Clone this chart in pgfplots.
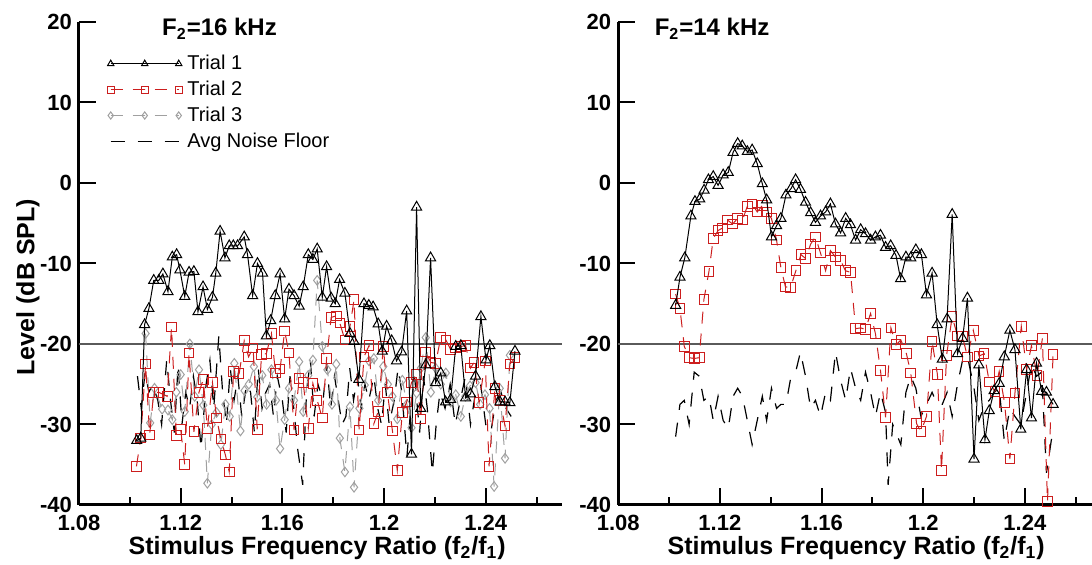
\documentclass[border=0pt]{standalone}
\usepackage{pgfplots}
\usepackage{pgfplotstable}
\usepackage{fontspec}
\setmainfont{Liberation Sans}
\pgfplotsset{compat=1.18}

\definecolor{trialred}{RGB}{204,30,30}
\definecolor{trialgray}{RGB}{160,160,160}
\definecolor{refgray}{RGB}{90,90,90}

% ---------- F2 = 16 kHz ----------
\pgfplotstableread{
x y
1.1027 -32.0
1.1043 -31.7
1.1058 -17.6
1.1075 -15.6
1.1094 -12.1
1.1114 -12.1
1.1130 -11.3
1.1150 -13.5
1.1167 -9.2
1.1184 -8.9
1.1197 -10.8
1.1216 -14.1
1.1233 -11.1
1.1252 -11.0
1.1268 -16.0
1.1288 -12.9
1.1305 -15.7
1.1325 -14.2
1.1338 -11.2
1.1355 -6.0
1.1374 -9.3
1.1391 -7.8
1.1407 -7.8
1.1424 -7.8
1.1450 -6.7
1.1463 -8.9
1.1483 -14.0
1.1502 -10.0
1.1522 -11.2
1.1537 -19.0
1.1554 -17.1
1.1572 -14.0
1.1591 -11.3
1.1609 -16.9
1.1626 -13.2
1.1646 -14.0
1.1666 -15.3
1.1682 -12.9
1.1702 -8.9
1.1720 -9.5
1.1737 -8.2
1.1757 -14.2
1.1774 -10.4
1.1792 -14.3
1.1808 -15.0
1.1825 -12.0
1.1846 -13.7
1.1866 -18.7
1.1882 -19.7
1.1901 -24.4
1.1921 -15.0
1.1940 -15.2
1.1957 -15.4
1.1977 -17.5
1.1993 -20.9
1.2010 -17.8
1.2030 -19.6
1.2049 -22.1
1.2069 -21.0
1.2089 -15.9
1.2108 -33.7
1.2128 -3.0
1.2144 -28.0
1.2164 -22.6
1.2183 -9.3
1.2203 -24.8
1.2223 -23.6
1.2242 -27.2
1.2262 -26.9
1.2282 -20.3
1.2302 -20.2
1.2321 -26.7
1.2340 -26.2
1.2360 -24.0
1.2381 -16.6
1.2401 -22.0
1.2416 -20.2
1.2436 -25.3
1.2456 -27.2
1.2476 -27.2
1.2495 -27.3
1.2515 -20.9
}\leftA

\pgfplotstableread{
x y
1.1026 -35.2
1.1043 -31.7
1.1062 -22.5
1.1078 -31.3
1.1094 -26.0
1.1114 -26.0
1.1147 -26.5
1.1164 -17.9
1.1183 -31.4
1.1200 -30.6
1.1216 -35.0
1.1233 -21.1
1.1252 -30.9
1.1272 -26.0
1.1289 -24.4
1.1305 -30.5
1.1325 -24.8
1.1341 -29.2
1.1358 -31.8
1.1376 -33.8
1.1391 -35.9
1.1408 -23.4
1.1430 -23.7
1.1450 -19.6
1.1467 -21.6
1.1485 -20.5
1.1501 -30.6
1.1518 -21.3
1.1537 -21.2
1.1557 -18.7
1.1573 -23.6
1.1591 -23.1
1.1609 -18.4
1.1626 -21.1
1.1646 -30.7
1.1666 -24.3
1.1682 -24.8
1.1702 -30.5
1.1720 -24.9
1.1737 -27.0
1.1757 -29.2
1.1774 -21.8
1.1792 -16.7
1.1812 -16.5
1.1826 -17.4
1.1846 -19.5
1.1866 -17.8
1.1882 -14.5
1.1902 -30.7
1.1921 -21.6
1.1941 -20.2
1.1960 -29.9
1.1977 -28.4
1.1997 -20.3
1.2013 -26.0
1.2033 -30.8
1.2052 -35.7
1.2072 -28.5
1.2089 -27.2
1.2108 -24.8
1.2128 -23.8
1.2144 -29.3
1.2164 -21.0
1.2184 -22.3
1.2203 -22.4
1.2223 -19.2
1.2243 -19.5
1.2262 -20.7
1.2282 -20.5
1.2302 -20.3
1.2321 -20.2
1.2340 -23.0
1.2354 -22.3
1.2374 -27.3
1.2398 -22.1
1.2413 -35.2
1.2436 -25.5
1.2456 -27.0
1.2476 -30.2
1.2495 -22.5
1.2515 -21.7
}\leftB

\pgfplotstableread{
x y
1.1062 -18.7
1.1080 -29.8
1.1097 -25.5
1.1127 -28.1
1.1150 -28.2
1.1167 -29.4
1.1183 -26.0
1.1200 -23.8
1.1216 -28.4
1.1236 -20.0
1.1255 -26.5
1.1272 -23.2
1.1289 -27.6
1.1305 -37.3
1.1322 -30.0
1.1341 -28.5
1.1358 -32.5
1.1376 -27.5
1.1393 -29.0
1.1411 -22.4
1.1435 -30.8
1.1451 -25.8
1.1468 -25.0
1.1488 -22.8
1.1501 -26.6
1.1521 -23.9
1.1538 -27.5
1.1557 -23.2
1.1575 -27.0
1.1591 -33.0
1.1609 -29.4
1.1626 -25.5
1.1646 -27.0
1.1666 -22.2
1.1682 -28.4
1.1702 -23.9
1.1720 -22.0
1.1737 -12.1
1.1757 -20.3
1.1777 -23.2
1.1795 -27.5
1.1812 -22.5
1.1826 -31.7
1.1846 -35.9
1.1866 -27.8
1.1882 -37.8
1.1903 -28.0
1.1924 -25.1
1.1941 -22.1
1.1960 -21.8
1.1977 -27.0
1.1997 -22.8
1.2015 -25.0
1.2033 -26.5
1.2052 -29.3
1.2072 -24.5
1.2090 -27.5
1.2108 -30.4
1.2128 -26.1
1.2145 -23.0
1.2164 -19.2
1.2184 -26.0
1.2203 -23.0
1.2223 -25.0
1.2243 -23.6
1.2262 -27.2
1.2282 -26.3
1.2302 -29.0
1.2320 -26.5
1.2338 -25.2
1.2360 -24.8
1.2378 -27.5
1.2397 -26.3
1.2415 -28.0
1.2433 -37.7
1.2455 -25.5
1.2476 -34.2
1.2495 -21.4
}\leftC

\pgfplotstableread{
x y
1.1030 -24.0
1.1045 -28.0
1.1060 -23.5
1.1075 -26.0
1.1090 -25.0
1.1110 -27.0
1.1125 -30.0
1.1145 -22.0
1.1160 -27.0
1.1175 -31.0
1.1190 -22.5
1.1205 -30.0
1.1220 -26.0
1.1235 -28.0
1.1250 -24.0
1.1265 -27.0
1.1280 -33.0
1.1300 -25.0
1.1315 -22.0
1.1330 -28.0
1.1350 -19.0
1.1365 -26.0
1.1380 -30.0
1.1395 -23.0
1.1410 -27.0
1.1425 -24.0
1.1440 -29.0
1.1460 -25.0
1.1475 -26.0
1.1490 -31.0
1.1505 -23.0
1.1520 -28.0
1.1535 -26.0
1.1550 -25.0
1.1565 -29.0
1.1580 -24.0
1.1600 -27.0
1.1615 -31.0
1.1630 -24.0
1.1645 -28.0
1.1660 -33.0
1.1680 -37.5
1.1695 -26.0
1.1710 -22.0
1.1725 -29.0
1.1740 -25.0
1.1760 -27.0
1.1775 -22.5
1.1790 -28.0
1.1805 -24.0
1.1820 -27.0
1.1835 -30.0
1.1850 -29.0
1.1865 -23.0
1.1880 -27.0
1.1895 -24.0
1.1910 -28.0
1.1925 -25.0
1.1940 -27.0
1.1960 -24.0
1.1975 -28.0
1.1990 -30.0
1.2005 -25.0
1.2020 -30.0
1.2040 -27.0
1.2055 -23.0
1.2070 -26.0
1.2090 -34.0
1.2105 -28.0
1.2120 -24.0
1.2140 -31.0
1.2155 -24.0
1.2170 -28.0
1.2190 -36.0
1.2205 -30.0
1.2220 -26.0
1.2240 -28.0
1.2260 -25.0
1.2280 -30.0
1.2300 -27.0
1.2320 -24.0
1.2340 -30.0
1.2360 -26.0
1.2380 -25.0
1.2400 -30.0
1.2420 -31.0
1.2440 -27.0
1.2460 -26.0
1.2480 -28.0
1.2500 -29.0
}\leftN

% ---------- F2 = 14 kHz ----------
\pgfplotstableread{
x y
1.1026 -15.2
1.1043 -11.7
1.1062 -9.3
1.1086 -4.1
1.1102 -2.3
1.1121 -2.0
1.1138 -0.9
1.1155 0.4
1.1174 0.8
1.1193 -0.3
1.1213 1.0
1.1233 1.3
1.1252 3.8
1.1270 4.9
1.1288 4.6
1.1308 3.9
1.1327 4.1
1.1347 2.4
1.1367 -0.1
1.1384 -2.1
1.1403 -6.7
1.1423 -5.3
1.1440 -4.4
1.1460 -1.5
1.1480 -0.7
1.1498 0.4
1.1517 -0.8
1.1537 -2.4
1.1557 -3.7
1.1576 -4.9
1.1596 -4.1
1.1616 -3.6
1.1635 -2.6
1.1655 -5.1
1.1675 -6.2
1.1695 -4.4
1.1714 -5.2
1.1734 -7.1
1.1754 -5.8
1.1773 -6.3
1.1793 -7.1
1.1812 -6.7
1.1832 -6.5
1.1852 -8.0
1.1872 -7.8
1.1893 -9.0
1.1911 -11.9
1.1932 -9.2
1.1951 -9.3
1.1971 -8.3
1.1993 -8.9
1.2013 -13.9
1.2035 -11.2
1.2055 -17.6
1.2075 -21.9
1.2094 -16.9
1.2114 -3.9
1.2135 -21.2
1.2155 -19.3
1.2174 -14.3
1.2200 -34.3
1.2219 -22.6
1.2243 -31.9
1.2260 -28.3
1.2279 -25.8
1.2299 -24.9
1.2319 -21.6
1.2341 -18.3
1.2361 -20.7
1.2384 -30.6
1.2407 -23.2
1.2426 -29.2
1.2446 -22.4
1.2466 -25.9
1.2485 -26.0
1.2511 -27.5
}\rightA

\pgfplotstableread{
x y
1.1026 -13.8
1.1043 -15.6
1.1060 -20.3
1.1079 -21.7
1.1099 -21.8
1.1119 -21.7
1.1137 -14.5
1.1157 -11.0
1.1174 -6.9
1.1193 -5.9
1.1210 -5.6
1.1230 -4.6
1.1250 -5.1
1.1270 -4.4
1.1289 -4.6
1.1308 -2.9
1.1327 -2.6
1.1347 -3.6
1.1367 -2.8
1.1384 -3.6
1.1403 -4.4
1.1423 -7.1
1.1440 -10.5
1.1458 -12.9
1.1478 -13.0
1.1499 -10.9
1.1519 -8.9
1.1538 -9.4
1.1557 -7.6
1.1576 -6.7
1.1596 -8.7
1.1616 -10.9
1.1635 -8.4
1.1655 -9.2
1.1675 -9.6
1.1694 -10.9
1.1714 -11.1
1.1734 -18.1
1.1754 -18.0
1.1773 -18.2
1.1793 -16.2
1.1812 -18.7
1.1832 -23.3
1.1852 -29.1
1.1873 -18.0
1.1893 -20.1
1.1912 -19.5
1.1934 -21.2
1.1951 -23.6
1.1974 -29.9
1.1991 -30.9
1.2013 -29.0
1.2035 -19.7
1.2056 -23.8
1.2072 -35.7
1.2092 -21.4
1.2114 -16.6
1.2135 -19.0
1.2155 -19.1
1.2174 -21.6
1.2197 -18.3
1.2220 -21.5
1.2240 -21.2
1.2260 -24.7
1.2282 -25.9
1.2299 -23.4
1.2320 -27.3
1.2341 -34.3
1.2361 -26.1
1.2386 -17.8
1.2407 -23.2
1.2426 -20.2
1.2448 -23.9
1.2469 -19.3
1.2489 -39.6
1.2511 -21.3
}\rightB

\pgfplotstableread{
x y
1.1026 -31.5
1.1043 -27.5
1.1060 -27.0
1.1079 -30.0
1.1099 -23.5
1.1119 -24.0
1.1137 -27.0
1.1157 -26.5
1.1174 -29.5
1.1193 -26.5
1.1213 -29.5
1.1233 -30.5
1.1252 -26.5
1.1270 -25.5
1.1289 -26.5
1.1308 -29.5
1.1327 -32.5
1.1347 -29.5
1.1367 -26.5
1.1384 -29.5
1.1403 -25.5
1.1423 -28.0
1.1440 -27.5
1.1460 -27.5
1.1480 -24.0
1.1498 -23.5
1.1517 -21.0
1.1537 -24.0
1.1557 -28.0
1.1576 -27.0
1.1596 -29.0
1.1616 -26.0
1.1635 -27.0
1.1655 -21.0
1.1675 -24.5
1.1695 -27.0
1.1714 -23.0
1.1734 -25.5
1.1754 -27.0
1.1773 -23.5
1.1793 -26.0
1.1812 -29.0
1.1832 -26.0
1.1852 -28.5
1.1862 -37.5
1.1880 -30.0
1.1893 -31.0
1.1912 -32.5
1.1932 -26.0
1.1951 -24.0
1.1971 -25.5
1.1991 -29.0
1.2013 -27.5
1.2035 -26.0
1.2055 -27.5
1.2075 -27.5
1.2094 -26.0
1.2114 -29.0
1.2135 -25.0
1.2155 -22.0
1.2174 -21.5
1.2200 -25.5
1.2219 -29.5
1.2243 -27.5
1.2260 -27.0
1.2279 -26.0
1.2299 -25.5
1.2319 -32.0
1.2341 -28.0
1.2361 -29.0
1.2384 -30.0
1.2407 -26.0
1.2426 -22.5
1.2446 -24.0
1.2466 -23.5
1.2485 -36.0
1.2511 -30.5
}\rightN

\pgfplotsset{
  panel/.style={
    scale only axis,
    clip mode=individual,
    height=241.5pt,
    ymin=-40, ymax=20,
    xmin=1.08,
    axis x line*=bottom, axis y line*=left,
    axis line style={line width=1.5pt, -},
    tick align=inside,
    major tick length=8.5pt, minor tick length=4pt,
    every tick/.style={black, line width=1pt},
    xtick={1.08,1.12,1.16,1.2,1.24},
    xticklabels={1.08,1.12,1.16,1.2,1.24},
    minor xtick={1.10,1.14,1.18,1.22,1.26},
    ytick={-40,-30,-20,-10,0,10,20},
    yticklabels={-40,-30,-20,-10,0,10,20},
    tick label style={font=\bfseries\fontsize{11}{13}\selectfont},
    xticklabel style={yshift=-1.5pt},
    label style={font=\bfseries\fontsize{12.5}{15}\selectfont},
    xlabel={Stimulus Frequency Ratio (f\textsubscript{2}/f\textsubscript{1})},
  },
  tone/.style={black, line width=0.5pt, solid, mark=triangle,
    mark size=2.9pt, mark options={solid, fill=white, line width=0.5pt}},
  tred/.style={trialred, line width=0.5pt, dash pattern=on 6pt off 5pt,
    mark=square, mark size=2.4pt, mark options={solid, fill=white, line width=0.5pt}},
  tgray/.style={trialgray, line width=0.5pt, dash pattern=on 6pt off 5pt,
    mark=diamond, mark size=2.4pt, mark options={solid, fill=white, line width=0.5pt}},
  noise/.style={black, line width=0.6pt, dash pattern=on 7pt off 6.5pt, no markers},
}

\begin{document}
\begin{tikzpicture}
\path[use as bounding box] (-39.5pt,-30pt) rectangle (506.5pt,252.5pt);

\begin{axis}[panel,
    at={(0pt,0pt)}, anchor=south west,
    width=241.5pt, xmax=1.27,
    ylabel={Level (dB SPL)},
    ylabel style={at={(axis description cs:-0.106,0.451)}, anchor=center},
    xlabel style={at={(axis description cs:0.493,-0.089)}, anchor=center},
    reverse legend,
    legend style={draw=none, fill=none, at={(0.045,0.947)}, anchor=north west,
      font=\fontsize{10}{12}\selectfont, row sep=1.2pt,
      nodes={inner sep=1.5pt},
      /tikz/every odd column/.append style={column sep=1pt}},
    legend cell align=left,
    legend image code/.code={\draw[#1, mark size=1.8pt] plot coordinates {(0pt,0pt) (17pt,0pt) (34pt,0pt)};},
]
\addplot[refgray, line width=0.8pt, no markers, forget plot] coordinates {(1.08,-20) (1.27,-20)};
\addplot[noise] table {\leftN};
\addplot[tgray] table {\leftC};
\addplot[tred] table {\leftB};
\addplot[tone] table {\leftA};
\legend{Avg Noise Floor, Trial 3, Trial 2, Trial 1}
\node[font=\bfseries\fontsize{12}{14}\selectfont, anchor=center]
  at (axis description cs:0.291,0.986) {F\textsubscript{2}=16 kHz};
\end{axis}

\begin{axis}[panel,
    at={(269.6pt,0pt)}, anchor=south west,
    width=237pt, xmax=1.2665,
    xlabel style={at={(axis description cs:0.502,-0.089)}, anchor=center},
]
\addplot[refgray, line width=0.8pt, no markers] coordinates {(1.08,-20) (1.2665,-20)};
\addplot[noise] table {\rightN};
\addplot[tred] table {\rightB};
\addplot[tone] table {\rightA};
\node[font=\bfseries\fontsize{12}{14}\selectfont, anchor=center]
  at (axis description cs:0.198,0.986) {F\textsubscript{2}=14 kHz};
\end{axis}
\end{tikzpicture}
\end{document}
